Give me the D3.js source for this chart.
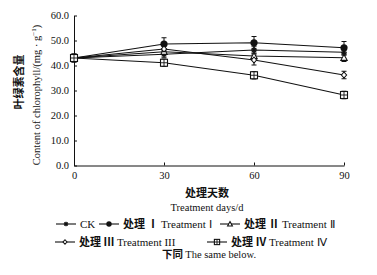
<!DOCTYPE html>
<html><head><meta charset="utf-8">
<script src="https://cdn.jsdelivr.net/npm/d3@7"></script>
<style>body{margin:0;background:#fff}svg{display:block}text{font-family:"Liberation Serif","Times New Roman",serif;fill:#111}</style>
</head><body><svg id="c" width="377" height="275"></svg>
<script>
const days = [0, 30, 60, 90];
const yTicks = [0, 10, 20, 30, 40, 50, 60];
const seriesNames = ["CK", "I", "II", "III", "IV"];
const ckVals = [43.0, 44.5, 46.2, 45.3];
const t1Vals = [43.0, 48.6, 49.1, 47.1];
const t2Vals = [43.0, 45.5, 43.8, 43.1];
const t3Vals = [43.0, 46.6, 42.2, 36.2];
const t4Vals = [43.0, 41.1, 36.1, 28.2];
const ckErr = [1.5, 1.2, 1.5, 1.2];
const t1Err = [1.5, 2.5, 2.5, 2.5];
const t2Err = [1.5, 1.2, 1.2, 1.5];
const t3Err = [1.5, 1.5, 2.0, 1.5];
const t4Err = [1.5, 1.5, 1.5, 1.5];
const legendRow1 = [["CK", "", "CK"], ["I", "处理 Ⅰ", "Treatment Ⅰ"], ["II", "处理 Ⅱ", "Treatment Ⅱ"]];
const legendRow2 = [["III", "处理 III", "Treatment III"], ["IV", "处理 Ⅳ", "Treatment Ⅳ"]];

const series = [
  {name: "CK", vals: ckVals, err: ckErr, mk: "star"},
  {name: "I", vals: t1Vals, err: t1Err, mk: "circle"},
  {name: "II", vals: t2Vals, err: t2Err, mk: "triangle"},
  {name: "III", vals: t3Vals, err: t3Err, mk: "diamond"},
  {name: "IV", vals: t4Vals, err: t4Err, mk: "square"}
];

const CJK = "'Noto Sans CJK SC',sans-serif";
const svg = d3.select("#c");
const x = d3.scaleLinear().domain([0, 90]).range([74, 344]);
const y = d3.scaleLinear().domain([0, 60]).range([165.5, 15.5]);

const gx = svg.append("g").attr("transform", "translate(0,165.5)")
  .call(d3.axisBottom(x).tickValues(days).tickSize(-3).tickSizeOuter(0).tickPadding(6));
const gy = svg.append("g").attr("transform", "translate(74,0)")
  .call(d3.axisLeft(y).tickValues(yTicks).tickFormat(d3.format(".1f")).tickSize(3).tickSizeOuter(0).tickPadding(3));
[gx, gy].forEach(g => {
  g.select(".domain").attr("stroke", "#111").attr("stroke-width", 1);
  g.selectAll(".tick line").attr("stroke", "#111");
  g.selectAll("text").style("font-family", "'Liberation Serif',serif").style("font-size", "10.5px").attr("fill", "#111");
});
gy.selectAll(".tick line").attr("x2", 3);
gy.selectAll(".tick text").attr("x", -5);

function marker(g, type, cx, cy, s) {
  s = s || 1;
  const k = "#111";
  if (type === "star") {
    g.append("path").attr("d", `M${cx-3*s},${cy}H${cx+3*s}M${cx},${cy-3*s}V${cy+3*s}M${cx-2.2*s},${cy-2.2*s}L${cx+2.2*s},${cy+2.2*s}M${cx-2.2*s},${cy+2.2*s}L${cx+2.2*s},${cy-2.2*s}`).attr("stroke", k).attr("stroke-width", 1.2);
  } else if (type === "circle") {
    g.append("circle").attr("cx", cx).attr("cy", cy).attr("r", 3.6 * s).attr("fill", k);
  } else if (type === "triangle") {
    g.append("path").attr("d", `M${cx},${cy-3.2*s}L${cx+3.2*s},${cy+2.6*s}L${cx-3.2*s},${cy+2.6*s}Z`).attr("fill", "#fff").attr("stroke", k).attr("stroke-width", 1.1);
  } else if (type === "diamond") {
    g.append("path").attr("d", `M${cx},${cy-3*s}L${cx+2.6*s},${cy}L${cx},${cy+3*s}L${cx-2.6*s},${cy}Z`).attr("fill", "#fff").attr("stroke", k).attr("stroke-width", 1.1);
  } else if (type === "square") {
    g.append("rect").attr("x", cx-3.5*s).attr("y", cy-3.5*s).attr("width", 7*s).attr("height", 7*s).attr("fill", "#fff").attr("stroke", k).attr("stroke-width", 1.1);
    g.append("path").attr("d", `M${cx-3.5*s},${cy}H${cx+3.5*s}M${cx},${cy-3.5*s}V${cy+3.5*s}`).attr("stroke", k).attr("stroke-width", 0.9);
  }
}

const line = d3.line().x((d, i) => x(days[i])).y(d => y(d));
const plot = svg.append("g");
series.forEach(s => {
  plot.append("path").attr("d", line(s.vals)).attr("fill", "none").attr("stroke", "#111").attr("stroke-width", 1.1);
});
series.forEach(s => {
  s.vals.forEach((v, i) => {
    const cx = x(days[i]);
    const e = s.err[i];
    plot.append("path").attr("d", `M${cx},${y(v+e)}V${y(v-e)}M${cx-2.5},${y(v+e)}H${cx+2.5}M${cx-2.5},${y(v-e)}H${cx+2.5}`).attr("stroke", "#111").attr("stroke-width", 1);
  });
});
series.forEach(s => {
  s.vals.forEach((v, i) => marker(plot, s.mk, x(days[i]), y(v)));
});

// axis titles
svg.append("text").attr("x", 207).attr("y", 197).attr("text-anchor", "middle")
  .style("font-family", CJK).style("font-weight", "600").style("font-size", "11px").text("处理天数");
svg.append("text").attr("x", 207).attr("y", 211).attr("text-anchor", "middle").style("font-size", "10.5px").text("Treatment days/d");
svg.append("text").attr("transform", "translate(23,82) rotate(-90)").attr("text-anchor", "middle")
  .style("font-family", CJK).style("font-weight", "600").style("font-size", "11px").text("叶绿素含量");
const yl = svg.append("text").attr("transform", "translate(39.5,95) rotate(-90)").attr("text-anchor", "middle").style("font-size", "10.5px");
yl.append("tspan").text("Content of chlorophyll/(mg · g");
yl.append("tspan").attr("dy", -4).style("font-size", "7px").text("−1");
yl.append("tspan").attr("dy", 4).text(")");

// legend
const mkOf = {}; series.forEach(s => mkOf[s.name] = s.mk);
function legendItem(x0, yy, key, zh, en) {
  const g = svg.append("g");
  g.append("line").attr("x1", x0).attr("x2", x0 + 20).attr("y1", yy).attr("y2", yy).attr("stroke", "#111").attr("stroke-width", 1.1);
  marker(g, mkOf[key], x0 + 10, yy, 0.75);
  const t = g.append("text").attr("x", x0 + 24).attr("y", yy + 3.5).style("font-size", "11px");
  if (zh) t.append("tspan").style("font-family", CJK).style("font-weight", "600").text(zh + "  ");
  t.append("tspan").text(en);
}
const row1X = [56, 99, 220];
legendRow1.forEach((d, i) => legendItem(row1X[i], 224, d[0], d[1], d[2]));
const row2X = [55, 207];
legendRow2.forEach((d, i) => legendItem(row2X[i], 242, d[0], d[1], d[2]));
const fn = svg.append("text").attr("x", 209).attr("y", 257.5).attr("text-anchor", "middle").style("font-size", "10.5px");
fn.append("tspan").style("font-family", CJK).style("font-weight", "600").text("下同 ");
fn.append("tspan").text("The same below.");
</script></body></html>
